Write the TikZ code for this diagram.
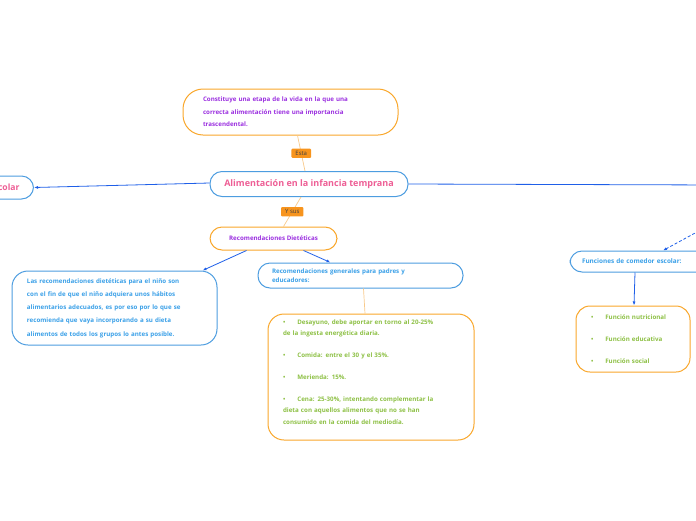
\documentclass[tikz,border=0pt]{standalone}
\usepackage{fontspec}
\setmainfont{Open Sans}
\usetikzlibrary{arrows.meta}
\definecolor{boxorange}{HTML}{F9A72B}
\definecolor{boxblue}{HTML}{4D9DE0}
\definecolor{linkblue}{HTML}{1F5FE8}
\definecolor{softorange}{HTML}{F8C98A}
\definecolor{lblorange}{HTML}{F7941D}
\definecolor{purpletext}{HTML}{9B2FE0}
\definecolor{pinktext}{HTML}{EE5E95}
\definecolor{lightblue}{HTML}{3AA0E8}
\definecolor{greentext}{HTML}{8DC044}
\tikzset{
  box/.style={draw, rounded corners=12pt, line width=1pt, fill=white, inner sep=0pt},
  orangebox/.style={box, draw=boxorange},
  bluebox/.style={box, draw=boxblue},
  link/.style={draw=linkblue, line width=0.8pt},
  arrowlink/.style={link, -{Latex[length=4pt,width=3pt]}},
  softlink/.style={draw=softorange, line width=0.7pt},
  lbl/.style={fill=lblorange, text=black!75, font=\fontsize{6}{7}\selectfont,
    inner xsep=4pt, inner ysep=2.5pt, rounded corners=1pt}
}
\begin{document}
\begin{tikzpicture}[x=1pt,y=-1pt]
% the page
\useasboundingbox (0,0) rectangle (696,520);
\clip (0,0) rectangle (696,520);
% the main topic and its neighbours
\node[orangebox, rounded corners=20pt, minimum height=46pt, text width=175pt, inner xsep=20pt,
  align=left, text=purpletext, font=\bfseries\fontsize{6.2}{12.5}\selectfont]
  (constituye) at (290.5,112)
  {Constituye una etapa de la vida en la que una\\ correcta alimentación tiene una importancia\\ trascendental.};
\node[bluebox, minimum width=198pt, minimum height=25pt, text=pinktext,
  font=\bfseries\fontsize{9}{10}\selectfont]
  (alimentacion) at (309,184) {Alimentación en la infancia temprana};
\node[bluebox, anchor=east, minimum height=23pt, inner xsep=14pt, text=pinktext,
  font=\bfseries\fontsize{8.6}{10}\selectfont]
  (comedor) at (34,187.5) {Comedor escolar};
% the recommendations
\node[orangebox, minimum width=127pt, minimum height=23pt, text=purpletext,
  font=\bfseries\fontsize{6.2}{8}\selectfont]
  (dieteticas) at (273.5,238.5) {Recomendaciones Dietéticas};
\node[bluebox, rounded corners=16pt, minimum height=74pt, text width=175pt, inner xsep=15pt,
  align=left, text=lightblue, font=\bfseries\fontsize{6.2}{13.3}\selectfont]
  (nino) at (114.5,308)
  {Las recomendaciones dietéticas para el niño son\\ con el fin de que el niño adquiera unos hábitos\\
   alimentarios adecuados, es por eso por lo que se\\ recomienda que vaya incorporando a su dieta\\
   alimentos de todos los grupos lo antes posible.};
\node[bluebox, minimum height=25pt, text width=177pt, inner xsep=14pt,
  align=left, text=lightblue, font=\bfseries\fontsize{6.2}{9.5}\selectfont]
  (generales) at (360.5,275.5) {Recomendaciones generales para padres y\\ educadores:};
\node[orangebox, rounded corners=16pt, minimum height=126pt, text width=176pt, inner xsep=15pt,
  align=left, text=greentext, font=\bfseries\fontsize{6.2}{11.5}\selectfont]
  (comidas) at (371,377)
  {\textbullet\hspace{12pt}Desayuno, debe aportar en torno al 20-25\%\\
   de la ingesta energética diaria.\\[10pt]
   \textbullet\hspace{12pt}Comida: entre el 30 y el 35\%.\\[11pt]
   \textbullet\hspace{12pt}Merienda: 15\%.\\[10pt]
   \textbullet\hspace{12pt}Cena: 25-30\%, intentando complementar la\\
   dieta con aquellos alimentos que no se han\\
   consumido en la comida del mediodía.\\[-1pt]\mbox{}};
% the school canteen
\node[bluebox, minimum height=21pt, text width=126pt, inner xsep=12pt,
  align=left, text=lightblue, font=\bfseries\fontsize{6.4}{8}\selectfont]
  (funciones) at (645,261.5) {Funciones de comedor escolar:};
\node[orangebox, rounded corners=14pt, minimum height=66pt, text width=84pt, inner xsep=15pt,
  align=left, text=greentext, font=\bfseries\fontsize{6.2}{11}\selectfont]
  (lista) at (633,339)
  {\textbullet\hspace{12pt}Función nutricional\\[11pt]
   \textbullet\hspace{12pt}Función educativa\\[11pt]
   \textbullet\hspace{12pt}Función social};
% the free ends off the page
\coordinate (offright) at (720,185);
\coordinate (offdash) at (708,226);
% the connectors
\draw[softlink] ([xshift=7pt]constituye.south) -- node[lbl] (esta) {Esta} ([xshift=-4pt]alimentacion.north);
\draw[softlink] ([xshift=-8pt]alimentacion.south) -- node[lbl] (ysus) {Y sus} ([xshift=10pt]dieteticas.north);
\draw[arrowlink] ([yshift=1pt]alimentacion.west) -- (comedor.east);
\draw[link] (alimentacion.east) -- (offright);
\draw[arrowlink] ([xshift=-27pt]dieteticas.south) -- ([xshift=-15pt]nino.north east);
\draw[arrowlink] ([xshift=30pt]dieteticas.south) -- ([xshift=73pt]generales.north west);
\draw[softlink] ([xshift=3pt]generales.south) -- ([xshift=-6pt]comidas.north);
\draw[arrowlink, dash pattern=on 3pt off 2pt] (offdash) -- ([xshift=18pt]funciones.north);
\draw[arrowlink] ([xshift=-10pt]funciones.south) -- ([xshift=1pt]lista.north);
\end{tikzpicture}
\end{document}
